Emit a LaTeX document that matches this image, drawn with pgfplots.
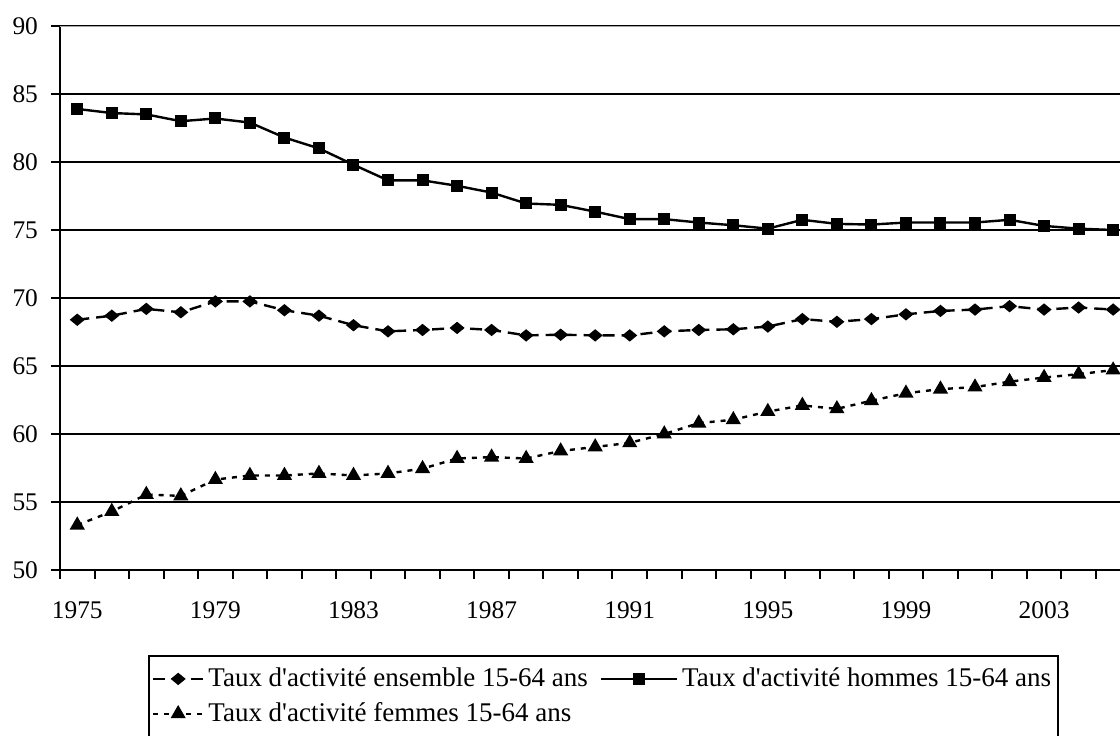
\documentclass[border=0pt]{standalone}
\usepackage{pgfplots}
\pgfplotsset{compat=1.18}
\usepackage{fontspec}
\setmainfont{Liberation Serif}
\pgfplotsset{
  shortlegend/.style={legend image code/.code={\draw[mark repeat=2,mark phase=2,##1] plot coordinates {(0pt,0pt) (12.5pt,0pt) (25pt,0pt)};}},
  longlegend/.style={legend image code/.code={\draw[mark repeat=2,mark phase=2,##1] plot coordinates {(0pt,0pt) (19pt,0pt) (38pt,0pt)};}},
}
\pgfplotstableread{
year ens hom fem
1975 68.4 83.9 53.3
1976 68.7 83.6 54.3
1977 69.2 83.5 55.55
1978 68.95 83.0 55.45
1979 69.75 83.2 56.65
1980 69.75 82.9 56.95
1981 69.1 81.8 56.95
1982 68.7 81.0 57.1
1983 68.0 79.8 56.95
1984 67.55 78.65 57.1
1985 67.65 78.65 57.45
1986 67.8 78.25 58.2
1987 67.65 77.75 58.3
1988 67.25 76.95 58.2
1989 67.3 76.85 58.75
1990 67.25 76.35 59.05
1991 67.25 75.8 59.35
1992 67.55 75.8 60.0
1993 67.65 75.55 60.8
1994 67.7 75.35 61.05
1995 67.9 75.1 61.65
1996 68.45 75.75 62.1
1997 68.25 75.45 61.85
1998 68.45 75.4 62.45
1999 68.8 75.55 63.0
2000 69.05 75.55 63.3
2001 69.15 75.55 63.45
2002 69.4 75.75 63.85
2003 69.15 75.3 64.15
2004 69.3 75.1 64.4
2005 69.15 75.0 64.7
}\data
\begin{document}
\begin{tikzpicture}
\begin{axis}[
  at={(0,0)}, anchor=south west,
  scale only axis, width=535.2pt, height=272pt,
  xmin=1974.5, xmax=2005.5, ymin=50, ymax=90,
  axis x line*=bottom, axis y line*=left,
  axis line style={line width=1pt, black, -},
  ytick={50,55,...,90},
  xtick={1975,1979,...,2003},
  minor xtick={1974.5,1975.5,...,2005.5},
  major x tick style={draw=none},
  tick align=outside,
  major tick length=4.5pt, minor tick length=4.5pt,
  tick style={line width=1pt, black},
  ymajorgrids=true,
  major grid style={line width=1pt, black},
  xticklabel style={yshift=-8pt},
  yticklabel style={xshift=-3pt},
  x tick label style={/pgf/number format/1000 sep={}},
  /pgf/number format/assume math mode=true,
  tick label style={font=\fontsize{12.7}{15}\selectfont},
  legend columns=2,
  legend cell align=left,
  legend style={at={(0.0822,-0.1563)}, anchor=north west,
    draw=black, line width=1pt, font=\fontsize{13.5}{16}\selectfont,
    inner xsep=1.5pt, inner ysep=4pt,
    nodes={inner xsep=2pt, inner ysep=2pt},
    /tikz/every even column/.append style={column sep=4pt},
    row sep=2.5pt},
  shortlegend,
]
\addplot[black, line width=1.2pt, dash pattern=on 6pt off 3.5pt, mark=diamond*, mark size=2.9pt, mark options={solid, xscale=1.3, yscale=0.8}] table[x=year,y=ens] {\data};
\addlegendentry{Taux d\textquotesingle activité ensemble 15-64 ans}
\addplot[black, line width=1.2pt, mark=square*, mark size=2.4pt, mark options={solid}, longlegend] table[x=year,y=hom] {\data};
\addlegendentry{Taux d\textquotesingle activité hommes 15-64 ans}
\addplot[black, line width=1.2pt, dash pattern=on 2.5pt off 3pt, mark=triangle*, mark size=3.2pt, mark options={solid}] table[x=year,y=fem] {\data};
\addlegendentry{Taux d\textquotesingle activité femmes 15-64 ans}
\draw[gray!70, line width=1pt] (axis cs:1974.5,90) -- (axis cs:2005.5,90);
\end{axis}
\pgfresetboundingbox
\useasboundingbox (-30pt,-82.5pt) rectangle (530pt,285pt);
\end{tikzpicture}
\end{document}
